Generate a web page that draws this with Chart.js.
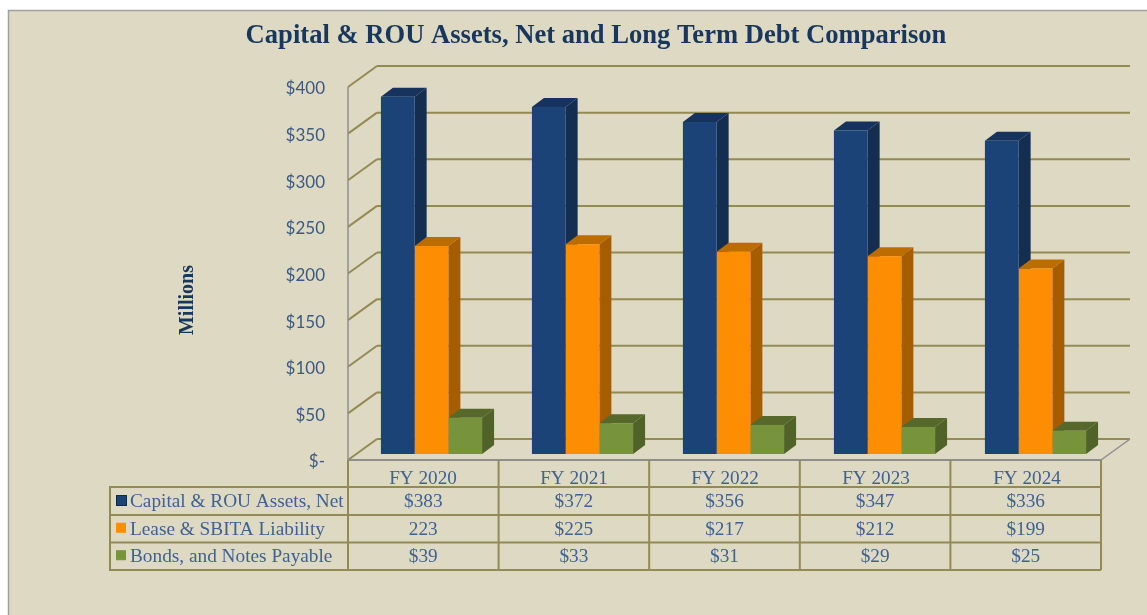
<!DOCTYPE html>
<html><head><meta charset="utf-8">
<style>html,body{margin:0;padding:0;background:#fff}canvas{display:block}</style>
<script src="https://cdn.jsdelivr.net/npm/chart.js@4"></script>
</head><body><canvas id="c" width="1147" height="615"></canvas>
<script>
const categories = ['FY 2020','FY 2021','FY 2022','FY 2023','FY 2024'];
const seriesNames = ['Capital & ROU Assets, Net','Lease & SBITA Liability','Bonds, and Notes Payable'];
const capitalAssets = [383,372,356,347,336];
const leaseLiability = [223,225,217,212,199];
const bondsNotes = [39,33,31,29,25];
const capitalCells = ['$383','$372','$356','$347','$336'];
const leaseCells = ['223','$225','$217','$212','$199'];
const bondsCells = ['$39','$33','$31','$29','$25'];
const yTicks = [0,50,100,150,200,250,300,350,400];

const tableRows = [capitalCells, leaseCells, bondsCells];
const fronts = ['#1b4377','#fd8d03','#77933c'];
const sides = ['#142e52','#a65d00','#4f6228'];
const tops = ['#15335c','#bd6c00','#56692b'];
const swatchBorders = ['#12294a','#fd8d03','#77933c'];
const swatchSizes = [10,9,9];
const TAN = '#948a54', GRAY = '#8e8e8e', TXT = '#3f6293';
const FRONT = {dx:-8, dy:6}, BACK = {dx:21, dy:-15}, BAR = {dx:12, dy:-9}, TRIM = 2;

function poly(ctx, pts, fill){
  ctx.beginPath(); pts.forEach((p,i)=> i?ctx.lineTo(p[0],p[1]):ctx.moveTo(p[0],p[1]));
  ctx.closePath(); ctx.fillStyle=fill; ctx.fill();
}
function line(ctx,x1,y1,x2,y2,col,w){
  ctx.beginPath(); ctx.moveTo(x1,y1); ctx.lineTo(x2,y2);
  ctx.strokeStyle=col; ctx.lineWidth=w; ctx.stroke();
}
const scene = {
  id:'scene',
  beforeDraw(chart){
    const ctx=chart.ctx;
    ctx.save();
    ctx.fillStyle='#ded9c3';
    ctx.fillRect(9,10,1147,615);
    ctx.strokeStyle='#a0a0a0'; ctx.lineWidth=1.5;
    ctx.strokeRect(8.5,10.5,1160,640);
    ctx.restore();
  },
  beforeDatasetsDraw(chart){
    const ctx=chart.ctx, y=chart.scales.y, a=chart.chartArea;
    const fl=a.left+FRONT.dx, fr=a.right-TRIM+FRONT.dx, bl=a.left+BACK.dx, br=a.right-TRIM+BACK.dx;
    ctx.save();
    yTicks.forEach(v=>{
      const p=y.getPixelForValue(v);
      line(ctx,fl,p+FRONT.dy,bl,p+BACK.dy,TAN,2);
      line(ctx,bl,p+BACK.dy,br,p+BACK.dy,TAN,2);
    });
    const p0=y.getPixelForValue(0), p4=y.getPixelForValue(400);
    line(ctx,fr,p0+FRONT.dy,br,p0+BACK.dy,GRAY,1.5);
    line(ctx,fl,p4+FRONT.dy,fl,p0+FRONT.dy,GRAY,1.5);
    line(ctx,fl,p0+FRONT.dy,fr,p0+FRONT.dy,GRAY,2);
    chart.data.datasets.forEach((ds,i)=>{
      chart.getDatasetMeta(i).data.forEach(b=>{
        const L=b.x-b.width/2, R=b.x+b.width/2, T=b.y, B=b.base;
        poly(ctx,[[R,T],[R+BAR.dx,T+BAR.dy],[R+BAR.dx,B+BAR.dy],[R,B]],sides[i]);
        poly(ctx,[[L,T],[L+BAR.dx,T+BAR.dy],[R+BAR.dx,T+BAR.dy],[R,T]],tops[i]);
      });
    });
    ctx.restore();
  },
  afterDraw(chart){
    const ctx=chart.ctx, y=chart.scales.y, a=chart.chartArea;
    const top=y.getPixelForValue(0)+FRONT.dy;
    const left=a.left+FRONT.dx, right=a.right-TRIM+FRONT.dx, tl=110;
    const cw=(right-left)/categories.length;
    const rows=[487,515,542.5,570];
    ctx.save();
    rows.forEach(r=>line(ctx,tl,r,right,r,TAN,2));
    line(ctx,tl,rows[0]-1,tl,rows[3]+1,TAN,2);
    for(let i=0;i<=categories.length;i++){
      const vx=left+i*cw;
      line(ctx,vx,top,vx,rows[3],TAN,2);
    }
    ctx.textBaseline='middle';
    ctx.font='19.3px "Liberation Serif"';
    seriesNames.forEach((n,i)=>{
      const cy=(rows[i]+rows[i+1])/2;
      ctx.textAlign='left'; ctx.fillStyle=TXT;
      ctx.fillText(n,130,cy+1);
      ctx.textAlign='center';
      tableRows[i].forEach((t,j)=>ctx.fillText(t,left+(j+0.5)*cw,cy+1));
      ctx.fillStyle=fronts[i];
      ctx.strokeStyle=swatchBorders[i]; ctx.lineWidth=1;
      ctx.fillRect(116.5,cy-5.5,swatchSizes[i],swatchSizes[i]);
      ctx.strokeRect(116.5,cy-5.5,swatchSizes[i],swatchSizes[i]);
    });
    ctx.translate(188,300); ctx.rotate(-Math.PI/2);
    ctx.textAlign='center'; ctx.font='bold 20px "Liberation Serif"'; ctx.fillStyle='#17375e';
    ctx.fillText('Millions',0,0);
    ctx.restore();
  }
};
new Chart(document.getElementById('c'),{
  type:'bar',
  data:{labels:categories,datasets:[
    {label:seriesNames[0],data:capitalAssets,backgroundColor:fronts[0]},
    {label:seriesNames[1],data:leaseLiability,backgroundColor:fronts[1]},
    {label:seriesNames[2],data:bondsNotes,backgroundColor:fronts[2]}
  ]},
  plugins:[scene],
  options:{
    responsive:false,animation:false,
    layout:{padding:{left:81,right:36,top:0,bottom:121}},
    datasets:{bar:{categoryPercentage:0.67,barPercentage:1,borderWidth:0}},
    plugins:{
      legend:{display:false},tooltip:{enabled:false},
      title:{display:true,text:'Capital & ROU Assets, Net and Long Term Debt Comparison',
        color:'#17375e',font:{family:'"Liberation Serif"',size:26.6,weight:'bold',lineHeight:1.2},
        padding:{top:20.5,bottom:81-20.5-31.92}}
    },
    scales:{
      x:{
        grid:{display:false},border:{display:false},
        afterFit(s){s.height=40;},
        ticks:{color:TXT,font:{family:'"Liberation Serif"',size:19.2},padding:5,labelOffset:FRONT.dx-0.5,maxRotation:0,autoSkip:false}
      },
      y:{
        min:0,max:400,
        grid:{display:false,drawTicks:false},border:{display:false},
        afterFit(s){s.width=275;},
        afterBuildTicks(s){s.ticks=yTicks.map(v=>({value:v}));},
        ticks:{color:'#3a5a85',font:{family:'Lato',size:17},padding:31,labelOffset:8,
          callback:v=>v===0?'$-':'$'+v}
      }
    }
  }
});
</script></body></html>
